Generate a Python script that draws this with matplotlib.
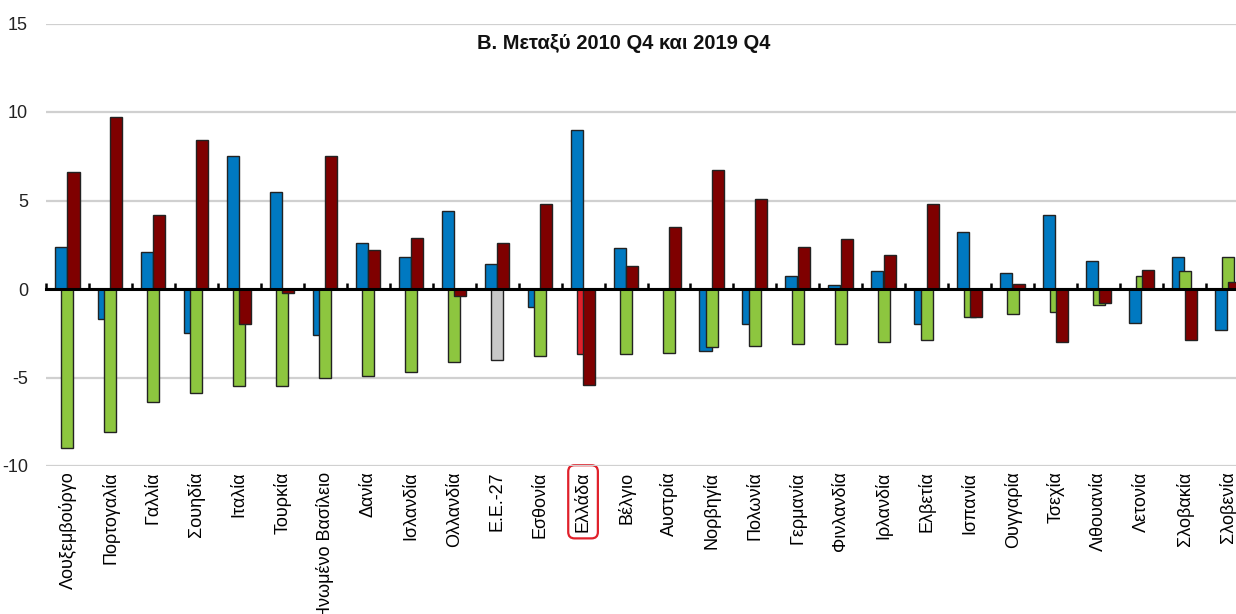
"""
Grouped bar chart: change between 2010 Q4 and 2019 Q4 by country
(three components per country, Greece and EU-27 highlighted).
"""

import matplotlib
matplotlib.use("Agg")
import matplotlib.pyplot as plt
import numpy as np

countries = [
    "Λουξεμβούργο", "Πορτογαλία", "Γαλλία", "Σουηδία", "Ιταλία", "Τουρκία",
    "Ηνωμένο Βασίλειο", "Δανία", "Ισλανδία", "Ολλανδία", "Ε.Ε.-27", "Εσθονία",
    "Ελλάδα", "Βέλγιο", "Αυστρία", "Νορβηγία", "Πολωνία", "Γερμανία",
    "Φινλανδία", "Ιρλανδία", "Ελβετία", "Ισπανία", "Ουγγαρία", "Τσεχία",
    "Λιθουανία", "Λετονία", "Σλοβακία", "Σλοβενία",
]

# blue bars
series_a = [2.4, -1.7, 2.1, -2.5, 7.5, 5.5, -2.6, 2.6, 1.8, 4.4, 1.4, -1.0,
            9.0, 2.3, 0.0, -3.5, -2.0, 0.75, 0.25, 1.0, -2.0, 3.2, 0.9, 4.2,
            1.6, -1.9, 1.8, -2.3]
# green bars (grey for EU-27, red for Greece)
series_b = [-9.0, -8.1, -6.4, -5.9, -5.5, -5.5, -5.0, -4.9, -4.7, -4.1, -4.0,
            -3.8, -3.7, -3.7, -3.6, -3.3, -3.2, -3.1, -3.1, -3.0, -2.9, -1.6,
            -1.4, -1.3, -0.9, 0.75, 1.0, 1.8]
# dark red bars
series_c = [6.6, 9.7, 4.2, 8.4, -2.0, -0.2, 7.5, 2.2, 2.9, -0.4, 2.6, 4.8,
            -5.4, 1.3, 3.5, 6.7, 5.1, 2.4, 2.8, 1.9, 4.8, -1.6, 0.3, -3.0,
            -0.8, 1.1, -2.9, 0.4]

TITLE = "Β. Μεταξύ 2010 Q4 και 2019 Q4"

BLUE = "#0079c1"
GREEN = "#8dc63f"
DARK_RED = "#7f0000"
GREECE_RED = "#e0202a"
EU_GREY = "#c8c8c8"
EDGE = "#222222"

plt.rcParams["font.family"] = ["Liberation Sans", "DejaVu Sans"]

fig = plt.figure(figsize=(12.36, 6.14), dpi=100)
ax = fig.add_axes([46 / 1236, 148 / 614, 1203 / 1236, 442.5 / 614])

x = np.arange(len(countries))
width = 0.28
mid_colors = [GREECE_RED if c == "Ελλάδα" else EU_GREY if c == "Ε.Ε.-27" else GREEN
              for c in countries]

bar_kw = dict(width=width, edgecolor=EDGE, linewidth=1.0)
ax.bar(x - 0.15, series_a, color=BLUE, zorder=3, **bar_kw)
ax.bar(x, series_b, color=mid_colors, zorder=4, **bar_kw)
ax.bar(x + 0.14, series_c, color=DARK_RED, zorder=5, **bar_kw)

ax.set_xlim(-0.5, len(countries) - 0.5)
ax.set_ylim(-10, 15)
ax.set_yticks([-10, -5, 0, 5, 10, 15])
ax.set_yticklabels(["-10", "-5", "0", "5", "10", "15"])
ax.yaxis.grid(True, color="#d0d0d0", linewidth=1.6)
ax.set_axisbelow(True)
for s in ax.spines.values():
    s.set_visible(False)
ax.tick_params(axis="y", length=0, pad=13, labelsize=13, labelcolor="#222222")

ax.set_xticks(x)
ax.set_xticklabels(countries, rotation=90, fontsize=13)
ax.tick_params(axis="x", length=0, pad=4)
for lbl in ax.get_xticklabels():
    if lbl.get_text() == "Ελλάδα":
        lbl.set_bbox(dict(boxstyle="round,pad=0.35", fc="none",
                          ec=GREECE_RED, lw=1.6))

# zero line with category boundary ticks
zero = ax.secondary_xaxis(10 / 25)
zero.set_xticks(np.arange(len(countries) + 1) - 0.5)
zero.tick_params(axis="x", direction="in", length=4.5, width=1.8,
                 labelbottom=False, labeltop=False, color="black")
for s in zero.spines.values():
    s.set_linewidth(2.2)
    s.set_color("black")
zero.set_zorder(6)

ax.text(0.4805, 0.955, TITLE, transform=ax.transAxes, ha="center", va="center",
        fontsize=14.5, fontweight="bold", color="#111111")

fig.savefig("out.png", dpi=100)
